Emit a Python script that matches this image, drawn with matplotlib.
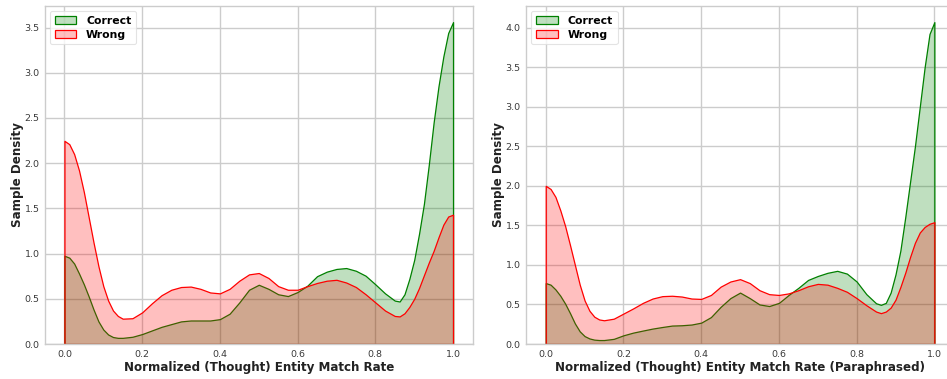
import numpy as np
import matplotlib
matplotlib.use("Agg")
import matplotlib.pyplot as plt
from matplotlib.colors import to_rgba
from matplotlib.patches import Patch

x_grid = [0.0, 0.0125, 0.025, 0.0375, 0.05, 0.0625, 0.075, 0.0875, 0.1, 0.1125,
          0.125, 0.1375, 0.15,
          0.175, 0.2, 0.225, 0.25, 0.275, 0.3, 0.325, 0.35, 0.375, 0.4, 0.425,
          0.45, 0.475, 0.5, 0.525, 0.55, 0.575, 0.6, 0.625, 0.65, 0.675, 0.7,
          0.725, 0.75, 0.775, 0.8, 0.825, 0.85, 0.8625,
          0.875, 0.8875, 0.9, 0.9125, 0.925, 0.9375, 0.95, 0.9625, 0.975, 0.9875, 1.0]

left_correct = [0.976, 0.955, 0.89, 0.78, 0.66, 0.525, 0.38, 0.25, 0.16, 0.105,
                0.077, 0.068, 0.068,
                0.08, 0.11, 0.15, 0.19, 0.22, 0.25, 0.26, 0.26, 0.26, 0.275, 0.335,
                0.46, 0.60, 0.655, 0.61, 0.55, 0.53, 0.575, 0.645, 0.75, 0.80, 0.83,
                0.84, 0.81, 0.755, 0.66, 0.56, 0.48, 0.47,
                0.55, 0.72, 0.93, 1.22, 1.55, 1.98, 2.45, 2.85, 3.18, 3.44, 3.56]
left_wrong = [2.247, 2.21, 2.10, 1.92, 1.68, 1.40, 1.12, 0.86, 0.64, 0.48,
              0.37, 0.31, 0.28,
              0.285, 0.35, 0.45, 0.54, 0.60, 0.63, 0.635, 0.61, 0.57, 0.56, 0.61,
              0.70, 0.77, 0.785, 0.73, 0.64, 0.60, 0.60, 0.64, 0.675, 0.70, 0.71,
              0.68, 0.63, 0.55, 0.46, 0.37, 0.31, 0.305,
              0.34, 0.41, 0.50, 0.62, 0.76, 0.90, 1.03, 1.18, 1.32, 1.41, 1.43]

right_correct = [0.77, 0.75, 0.69, 0.61, 0.51, 0.39, 0.26, 0.16, 0.10, 0.07,
                 0.055, 0.05, 0.05,
                 0.065, 0.11, 0.144, 0.17, 0.195, 0.215, 0.233, 0.237, 0.246, 0.27, 0.34,
                 0.47, 0.58, 0.65, 0.58, 0.50, 0.48, 0.52, 0.62, 0.71, 0.81, 0.86,
                 0.90, 0.925, 0.89, 0.79, 0.63, 0.515, 0.495,
                 0.52, 0.65, 0.88, 1.18, 1.6, 2.05, 2.5, 3.0, 3.5, 3.92, 4.07]
right_wrong = [2.00, 1.96, 1.86, 1.69, 1.49, 1.25, 1.00, 0.75, 0.55, 0.42,
               0.345, 0.31, 0.30,
               0.32, 0.385, 0.45, 0.52, 0.575, 0.605, 0.61, 0.60, 0.575, 0.57, 0.62,
               0.725, 0.79, 0.82, 0.77, 0.68, 0.63, 0.62, 0.64, 0.68, 0.73, 0.76,
               0.75, 0.71, 0.66, 0.58, 0.49, 0.41, 0.39,
               0.41, 0.46, 0.56, 0.72, 0.90, 1.10, 1.28, 1.41, 1.48, 1.52, 1.54]

series_labels = ["Correct", "Wrong"]
series_colors = ["green", "red"]
xlabels = ["Normalized (Thought) Entity Match Rate",
           "Normalized (Thought) Entity Match Rate (Paraphrased)"]
ylabel = "Sample Density"
xticks = [0.0, 0.2, 0.4, 0.6, 0.8, 1.0]
yticks_left = [0.0, 0.5, 1.0, 1.5, 2.0, 2.5, 3.0, 3.5]
yticks_right = [0.0, 0.5, 1.0, 1.5, 2.0, 2.5, 3.0, 3.5, 4.0]

plt.rcParams['font.family'] = ['DejaVu Sans']

fig = plt.figure(figsize=(9.47, 3.79), dpi=100)
ax1 = fig.add_axes([45 / 947, 1 - 344 / 379, 427.5 / 947, 338 / 379])
ax2 = fig.add_axes([526.3 / 947, 1 - 344 / 379, 427.5 / 947, 338 / 379])

panels = [
    (ax1, [left_correct, left_wrong], yticks_left, xlabels[0]),
    (ax2, [right_correct, right_wrong], yticks_right, xlabels[1]),
]

for ax, ys, yt, xl in panels:
    ax.set_facecolor("white")
    ax.set_axisbelow(True)
    ax.grid(True, color="#cccccc", linewidth=1.0)
    for y, c, lab in zip(ys, series_colors, series_labels):
        ax.fill_between(x_grid, 0, y, facecolor=to_rgba(c, 0.25),
                        edgecolor=c, linewidth=0.9, label=lab)
    ax.set_xlim(-0.05, 1.05)
    ymax = max(max(v) for v in ys) * 1.05
    ax.set_ylim(0, ymax)
    ax.set_xticks(xticks)
    ax.set_yticks(yt)
    ax.set_xticklabels([f"{v:.1f}" for v in xticks])
    ax.set_yticklabels([f"{v:.1f}" for v in yt])
    ax.tick_params(axis="both", length=0, pad=4, labelsize=6.8, labelcolor="#3a3a3a")
    for s in ax.spines.values():
        s.set_color("#cccccc")
        s.set_linewidth(1.0)
    ax.set_xlabel(xl, fontsize=8.6, fontweight="bold", labelpad=2, color="#222222")
    ax.set_ylabel(ylabel, fontsize=8.6, fontweight="bold", labelpad=0.5, color="#222222")
    handles = [Patch(facecolor=to_rgba(c, 0.25), edgecolor=c, linewidth=0.9, label=l)
               for c, l in zip(series_colors, series_labels)]
    leg = ax.legend(handles=handles, loc="upper left", prop={"weight": "bold", "size": 7.8},
                    frameon=True, borderpad=0.45, handlelength=2.0, handletextpad=0.9,
                    labelspacing=0.35, fancybox=True, borderaxespad=0.45)
    leg.get_frame().set_edgecolor("#dddddd")
    leg.get_frame().set_linewidth(0.8)

fig.savefig("out.png", dpi=100, facecolor="white")
